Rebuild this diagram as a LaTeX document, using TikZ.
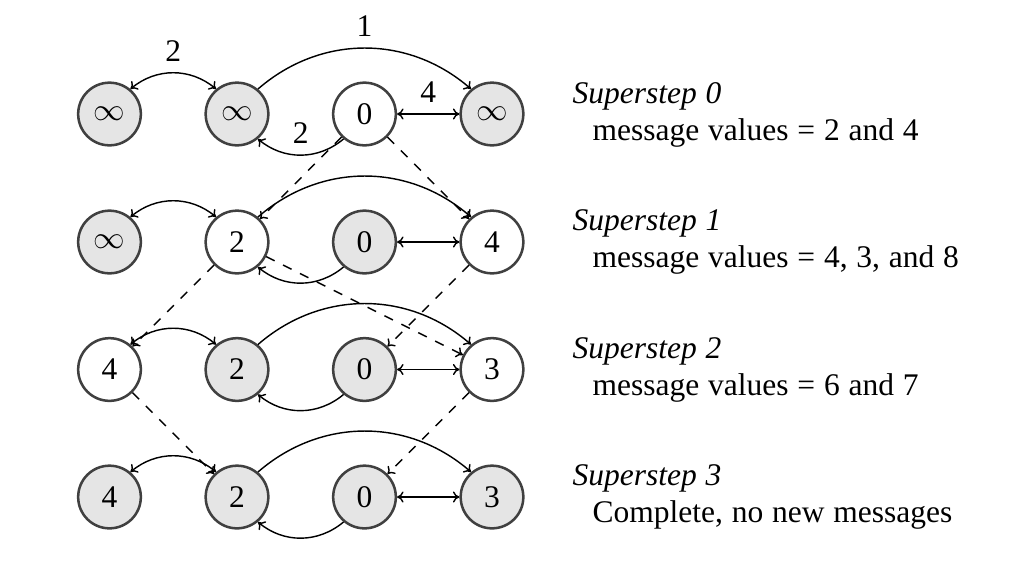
\documentclass[tikz,border=0pt]{standalone}
\usepackage{fontspec}
\setmainfont[WordSpace=1.12]{Liberation Serif}
\usetikzlibrary{arrows.meta}
\begin{document}
\begin{tikzpicture}[x=0.3175pt,y=-0.3175pt,
  >={Computer Modern Rightarrow[length=2.05pt,width=3.5pt]},
  vtx/.style={circle,draw=black!75,line width=0.8pt,minimum size=19.9pt,inner sep=0pt,fill=white},
  done/.style={vtx,fill=black!10},
  edge/.style={->,line width=0.45pt},
  biedge/.style={<->,line width=0.45pt},
  msg/.style={->,dashed,line width=0.45pt},
  lbl/.style={midway,above},
  head/.style={anchor=base west,inner sep=0pt,font=\itshape},
  info/.style={anchor=base west,inner sep=0pt}]
\useasboundingbox (0,0) rectangle (1013,571);
% row 0
\node[done] (a0) at (109.5,114) {$\infty$};
\node[done] (b0) at (237,114) {$\infty$};
\node[vtx]  (c0) at (364.5,114) {0};
\node[done] (d0) at (492,114) {$\infty$};
% row 1
\node[done] (a1) at (109.5,242) {$\infty$};
\node[vtx]  (b1) at (237,242) {2};
\node[done] (c1) at (364.5,242) {0};
\node[vtx]  (d1) at (492,242) {4};
% row 2
\node[vtx]  (a2) at (109.5,369.5) {4};
\node[done] (b2) at (237,369.5) {2};
\node[done] (c2) at (364.5,369.5) {0};
\node[vtx]  (d2) at (492,369.5) {3};
% row 3
\node[done] (a3) at (109.5,497) {4};
\node[done] (b3) at (237,497) {2};
\node[done] (c3) at (364.5,497) {0};
\node[done] (d3) at (492,497) {3};
% edges, row 0 with weights
\draw[biedge] (a0.50) to[bend left=40] node[lbl] {2} (b0.130);
\draw[edge] (b0.50) to[bend left=41] node[lbl] {1} (d0.130);
\draw[biedge] (c0) -- node[lbl] {4} (d0);
\draw[edge] (c0.230) to[bend left=40] node[lbl] {2} (b0.310);
% edges, other rows
\foreach \r in {1,2,3}{
  \draw[biedge] (a\r.50) to[bend left=40] (b\r.130);
  \draw[edge] (b\r.50) to[bend left=41] (d\r.130);
  \draw[biedge] (c\r) -- (d\r);
  \draw[edge] (c\r.230) to[bend left=40] (b\r.310);
}
% messages
\draw[msg] (c0) -- (b1);
\draw[msg] (c0) -- (d1);
\draw[msg] (b1) -- (a2);
\draw[msg] (b1) -- (d2);
\draw[msg] (d1) -- (c2);
\draw[msg] (a2) -- (b3);
\draw[msg] (d2) -- (c3);
% descriptions
\node[head] (s0) at (572,103) {Superstep 0};
\node[info] (m0) at (592,140) {message values = 2 and 4};
\node[head] (s1) at (572,230.5) {Superstep 1};
\node[info] (m1) at (592,267.5) {message values = 4, 3, and 8};
\node[head] (s2) at (572,358) {Superstep 2};
\node[info] (m2) at (592,395) {message values = 6 and 7};
\node[head] (s3) at (572,485.5) {Superstep 3};
\node[info] (m3) at (592,522.5) {Complete, no new messages};
\end{tikzpicture}
\end{document}
